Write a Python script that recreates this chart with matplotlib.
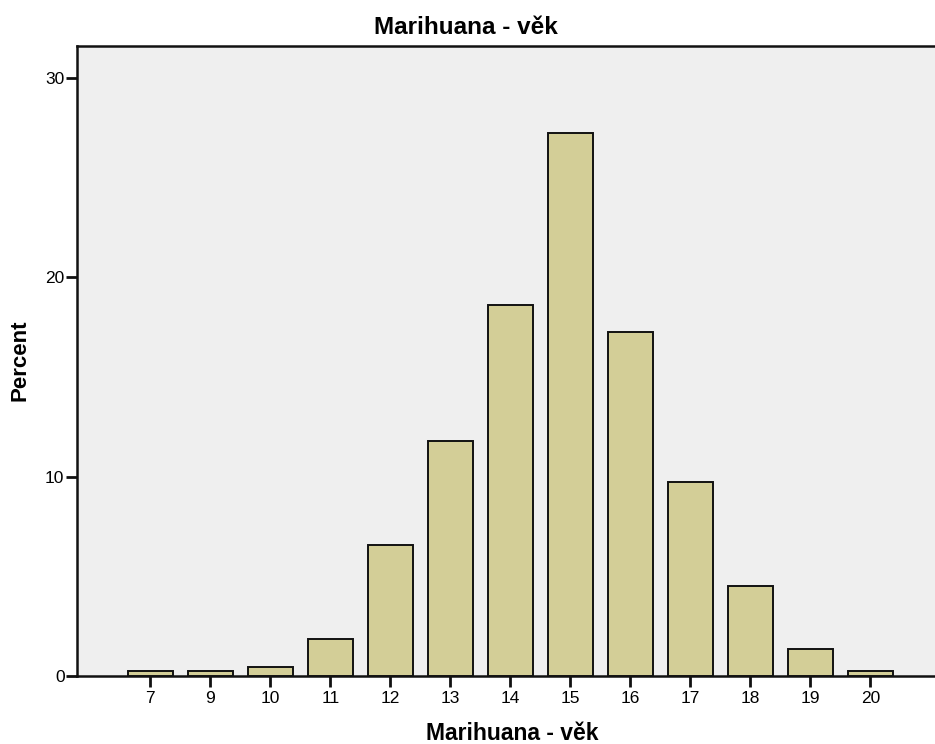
import numpy as np
import matplotlib.pyplot as plt

# ===============================
# Data
# ===============================
ages = ["7", "9", "10", "11", "12", "13", "14", "15", "16", "17", "18", "19", "20"]
percent = [0.25, 0.25, 0.47, 1.84, 6.58, 11.8, 18.62, 27.24, 17.27, 9.74, 4.52, 1.37, 0.25]

plt.rcParams["font.family"] = ["Liberation Sans", "DejaVu Sans"]

W, H = 935, 744
fig = plt.figure(figsize=(W / 100, H / 100), dpi=100)
# axes run off the right edge, as in the original export
ax = fig.add_axes([77 / W, 68 / H, 1.0, 630 / H])
ax.set_facecolor("#efefef")

x = np.arange(len(ages))
ax.bar(x, percent, width=0.75, color="#d3ce97", edgecolor="#111111", linewidth=1.4, zorder=3)

ax.set_xticks(x)
ax.set_xticklabels(ages)
ax.set_yticks([0, 10, 20, 30])
ax.set_xlim(-1.22, 14.36)
ax.set_ylim(0, 31.6)

ax.tick_params(axis="both", direction="out", length=8, width=2, labelsize=12.5, color="#111111")
ax.tick_params(axis="x", pad=3)
ax.tick_params(axis="y", pad=1)

for side in ["left", "bottom", "top"]:
    ax.spines[side].set_linewidth(1.8)
    ax.spines[side].set_color("#111111")
ax.spines["right"].set_visible(False)

# Titles placed in figure pixels
fig.text(466 / W, 1 - 34 / H, "Marihuana - věk", fontsize=17.5, fontweight="bold",
         ha="center", va="baseline")
fig.text(512 / W, 1 - 740 / H, "Marihuana - věk", fontsize=16.5, fontweight="bold",
         ha="center", va="baseline")
fig.text(20 / W, 1 - 360 / H, "Percent", fontsize=16, fontweight="bold",
         ha="center", va="center", rotation=90)

plt.savefig("out.png", dpi=100)
plt.close()
